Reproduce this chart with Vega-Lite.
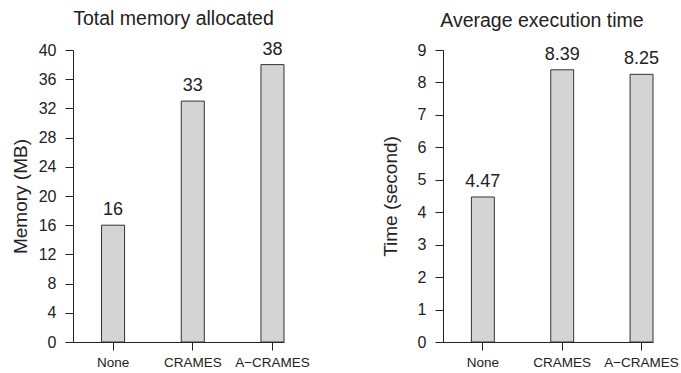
{
  "$schema": "https://vega.github.io/schema/vega-lite/v6.json",
  "padding": {"left": 11, "top": 9, "right": 5, "bottom": 3},
  "bounds": "flush",
  "spacing": 159,
  "config": {
    "font": "Liberation Sans",
    "view": {"stroke": null},
    "axis": {
      "grid": false,
      "domainColor": "#222222",
      "tickColor": "#222222",
      "labelColor": "#222222",
      "titleColor": "#222222",
      "labelFont": "Liberation Sans",
      "titleFont": "Liberation Sans",
      "titleFontWeight": "normal",
      "tickSize": 8
    },
    "title": {"font": "Liberation Sans", "fontWeight": "normal", "color": "#222222", "fontSize": 19.5}
  },
  "datasets": {
    "mem": [
      {"method": "None", "value": 16},
      {"method": "CRAMES", "value": 33},
      {"method": "A\u2212CRAMES", "value": 38}
    ],
    "time": [
      {"method": "None", "value": 4.47},
      {"method": "CRAMES", "value": 8.39},
      {"method": "A\u2212CRAMES", "value": 8.25}
    ]
  },
  "hconcat": [
    {
      "width": 211,
      "height": 292,
      "title": {"text": "Total memory allocated", "frame": "group", "anchor": "middle", "baseline": "alphabetic", "offset": -4, "dx": -5},
      "data": {"name": "mem"},
      "encoding": {
        "x": {
          "field": "method", "type": "nominal", "sort": null,
          "scale": {"paddingInner": 0.711, "paddingOuter": 0.179, "align": 1},
          "axis": {"title": null, "labelAngle": 0, "labelFontSize": 13.5, "labelPadding": 5}
        },
        "y": {
          "field": "value", "type": "quantitative",
          "scale": {"domain": [0, 40], "nice": false},
          "axis": {"title": "Memory (MB)", "values": [0, 4, 8, 12, 16, 20, 24, 28, 32, 36, 40], "labelFontSize": 16, "labelPadding": 9, "titleFontSize": 19, "titlePadding": 8}
        }
      },
      "layer": [
        {"mark": {"type": "bar", "fill": "#d4d4d4", "stroke": "#333333", "strokeWidth": 1}},
        {"mark": {"type": "text", "baseline": "alphabetic", "dy": -10, "fontSize": 18, "color": "#222222"}, "encoding": {"text": {"field": "value", "type": "quantitative"}}}
      ]
    },
    {
      "width": 210,
      "height": 292,
      "title": {"text": "Average execution time", "frame": "group", "anchor": "middle", "baseline": "alphabetic", "offset": -4, "dx": -6},
      "data": {"name": "time"},
      "encoding": {
        "x": {
          "field": "method", "type": "nominal", "sort": null,
          "scale": {"paddingInner": 0.711, "paddingOuter": 0.179, "align": 1},
          "axis": {"title": null, "labelAngle": 0, "labelFontSize": 13.5, "labelPadding": 5}
        },
        "y": {
          "field": "value", "type": "quantitative",
          "scale": {"domain": [0, 9], "nice": false},
          "axis": {"title": "Time (second)", "values": [0, 1, 2, 3, 4, 5, 6, 7, 8, 9], "labelFontSize": 16, "labelPadding": 9, "titleFontSize": 19, "titlePadding": 17}
        }
      },
      "layer": [
        {"mark": {"type": "bar", "fill": "#d4d4d4", "stroke": "#333333", "strokeWidth": 1}},
        {"mark": {"type": "text", "baseline": "alphabetic", "dy": -10, "fontSize": 18, "color": "#222222"}, "encoding": {"text": {"field": "value", "type": "quantitative", "format": ".2~f"}}}
      ]
    }
  ]
}
